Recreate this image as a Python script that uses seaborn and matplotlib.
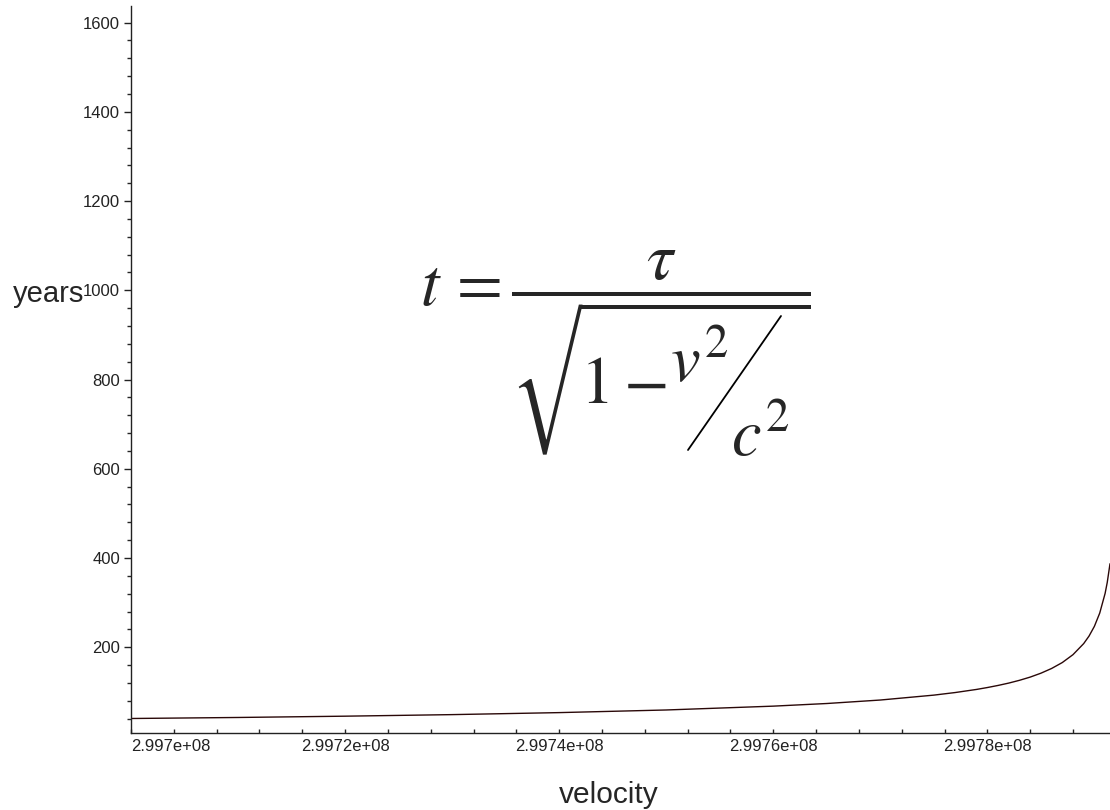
import pandas as pd
import matplotlib
matplotlib.use("Agg")
import matplotlib.pyplot as plt
import seaborn as sns
from matplotlib.ticker import MultipleLocator
from matplotlib.lines import Line2D

# -----------------------------
# Data
# -----------------------------
velocity = [299700000, 299710000, 299720000, 299730000, 299740000, 299750000,
            299760000, 299765000, 299770000, 299775000, 299777000, 299779000,
            299780000, 299781000, 299782000, 299783000, 299784000, 299785000,
            299786000, 299787000, 299788000, 299789000, 299789500, 299790000,
            299790500, 299791000, 299791200, 299791458]
years = [40.3, 42.6, 45.5, 49.0, 53.5, 59.4,
         68.0, 73.9, 81.7, 92.7, 98.5, 105.5,
         109.7, 114.4, 119.7, 125.9, 133.1, 141.8,
         152.4, 165.7, 183.4, 208.2, 225.1, 246.9,
         276.7, 320.6, 345.2, 387.2]

x_ticks = [2.997e8, 2.9972e8, 2.9974e8, 2.9976e8, 2.9978e8]
x_tick_labels = ["2.997e+08", "2.9972e+08", "2.9974e+08", "2.9976e+08", "2.9978e+08"]
y_ticks = [200, 400, 600, 800, 1000, 1200, 1400, 1600]

# -----------------------------
# Style
# -----------------------------
sns.set_style("ticks")
plt.rcParams['font.family'] = ['Liberation Sans', 'DejaVu Sans']
plt.rcParams['mathtext.fontset'] = 'stix'

W, H = 1110, 810
fig = plt.figure(figsize=(W / 100, H / 100), dpi=100)
ax = fig.add_axes([131 / W, 1 - 733 / H, (W - 131) / W, (733 - 5.7) / H])

df = pd.DataFrame({"velocity": velocity, "years": years})
sns.lineplot(data=df, x="velocity", y="years", ax=ax, color="#2a0808", linewidth=1.0)

ax.set_xlim(2.997e8, 2.99791458e8)
ax.set_ylim(7.8, 1638)

ax.set_xticks(x_ticks)
ax.set_xticklabels(x_tick_labels)
ax.xaxis.set_minor_locator(MultipleLocator(4000))
ax.set_yticks(y_ticks)
ax.set_yticklabels([str(v) for v in y_ticks])
ax.yaxis.set_minor_locator(MultipleLocator(40))
ax.xaxis.get_majorticklabels()[0].set_horizontalalignment("left")

ax.tick_params(axis="x", which="both", direction="in", length=3, width=1,
               pad=4, labelsize=12, colors="#222222")
ax.tick_params(axis="y", which="major", direction="out", length=5, width=1,
               pad=3, labelsize=12, colors="#222222")
ax.tick_params(axis="y", which="minor", direction="out", length=3, width=1)

for s in ["top", "right"]:
    ax.spines[s].set_visible(False)
for s in ["left", "bottom"]:
    ax.spines[s].set_color("#222222")
    ax.spines[s].set_linewidth(1)
ax.set_xlabel("")
ax.set_ylabel("")

# axis titles (Maple style)
fig.text(13 / W, 1 - 302 / H, "years", fontsize=21, ha="left", va="baseline")
fig.text(609 / W, 1 - 803 / H, "velocity", fontsize=21.5, ha="center", va="baseline")

# -----------------------------
# Formula
# -----------------------------
formula = (r"$t\,=\dfrac{\tau}{\sqrt{\!1-\!"
           r"\genfrac{}{}{0}{0}{v^{2}\quad\;}{\quad\;c^{2}}}}$")
fig.text(420 / W, 1 - 306 / H, formula, fontsize=48, ha="left", va="baseline")
fig.add_artist(Line2D([688 / W, 781 / W], [1 - 450 / H, 1 - 316 / H],
                      transform=fig.transFigure, color="black", linewidth=1.3))

fig.savefig("out.png", dpi=100)
